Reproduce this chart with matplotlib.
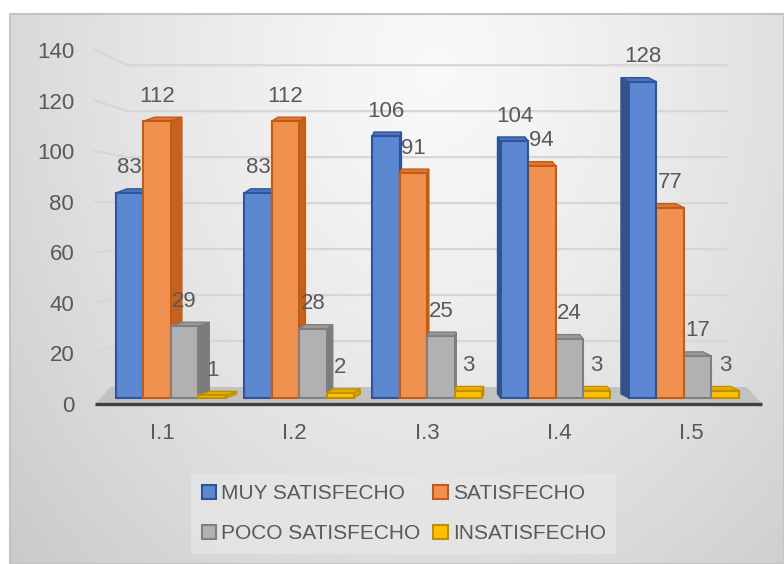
import numpy as np
import matplotlib
matplotlib.use("Agg")
import matplotlib.pyplot as plt
from matplotlib.patches import Polygon, Patch, Rectangle

# datos
categorias = ["I.1", "I.2", "I.3", "I.4", "I.5"]
series = ["MUY SATISFECHO", "SATISFECHO", "POCO SATISFECHO", "INSATISFECHO"]
muy_satisfecho = [83, 83, 106, 104, 128]
satisfecho = [112, 112, 91, 94, 77]
poco_satisfecho = [29, 28, 25, 24, 17]
insatisfecho = [1, 2, 3, 3, 3]
valores = [muy_satisfecho, satisfecho, poco_satisfecho, insatisfecho]

# estilo
C_FRENTE = ["#5B87D3", "#F0914F", "#B1B1B1", "#FFC000"]
C_BORDE = ["#2F5597", "#C55A11", "#7F7F7F", "#BF9000"]
C_LADO = ["#34518A", "#C4621F", "#7C7C7C", "#D9A400"]
C_TAPA = ["#4A74BF", "#D9793A", "#9A9A9A", "#E8B000"]
TXT = "#595959"
plt.rcParams["font.family"] = ["Liberation Sans", "DejaVu Sans"]
FS = 16

# geometria del falso 3D
ANCHO = 0.207
BASE = 2.4          # base de las barras (profundidad media)
ESC = 0.977         # escala de las barras respecto al eje frontal
FONDO_A, FONDO_B = 6.72, 0.909   # pared del fondo
X_IZQ, X_DER = -0.506, 4.53
X_FONDO_IZQ, X_FONDO_DER = -0.257, 4.27
DY = 1.6

fig = plt.figure(figsize=(7.84, 5.64), dpi=100)
fig.patch.set_facecolor("white")

# fondo con degradado
bg = fig.add_axes([10 / 784, 0, 774 / 784, 550 / 564])
yy, xx = np.mgrid[0:1:300j, 0:1:400j]
d = np.sqrt(((xx - 0.55) / 0.5) ** 2 + ((yy - 0.1) / 0.9) ** 2)
g = np.clip(0.975 - 0.11 * d ** 1.3, 0, 1)
bg.imshow(np.dstack([g, g, g]), aspect="auto", extent=[0, 1, 1, 0])
bg.set_xlim(0, 1)
bg.set_ylim(1, 0)
bg.axis("off")
bg.add_patch(Rectangle((0, 0), 1, 1, transform=bg.transAxes, fill=False,
                       edgecolor="#c4c4c4", lw=1.5, clip_on=False))

ax = fig.add_axes([95 / 784, 160 / 564, 667 / 784, 354 / 564])
ax.set_facecolor("none")
ax.set_xlim(X_IZQ, X_DER)
ax.set_ylim(0, 140)

# lineas de division (pared del fondo)
for v in range(20, 141, 20):
    vb = FONDO_A + FONDO_B * v
    ax.plot([X_IZQ, X_FONDO_IZQ, X_FONDO_DER], [v, vb, vb], color="#d6d6d6",
            lw=1.6, zorder=1, clip_on=False)

# piso
ax.add_patch(Polygon([(X_IZQ, 0), (X_DER, 0), (4.415, FONDO_A), (-0.39, FONDO_A)],
                     closed=True, facecolor="#c2c2c2", edgecolor="none", zorder=1.5))
ax.plot([X_IZQ, X_DER], [0, 0], color="#404040", lw=2.4, zorder=2, clip_on=False,
        solid_capstyle="butt")

x = np.arange(len(categorias))
for i in range(len(categorias)):
    inicio = -0.347 - 0.032 * i
    dx = 0.083 - 0.0357 * i
    for k, vals in enumerate(valores):
        z = 3 + (k if dx > 0 else 3 - k) + i * 10
        x0 = x[i] + inicio + k * ANCHO
        x1 = x0 + ANCHO
        yb = BASE
        yt = BASE + ESC * vals[i]
        # cara lateral
        if abs(dx) > 0.005:
            xe = x1 if dx > 0 else x0
            ax.add_patch(Polygon([(xe, yb), (xe + dx, yb + DY), (xe + dx, yt + DY), (xe, yt)],
                                 closed=True, facecolor=C_LADO[k], edgecolor=C_BORDE[k],
                                 lw=1.0, zorder=z + 0.2))
        # cara superior
        ax.add_patch(Polygon([(x0, yt), (x1, yt), (x1 + dx, yt + DY), (x0 + dx, yt + DY)],
                             closed=True, facecolor=C_TAPA[k], edgecolor=C_BORDE[k],
                             lw=1.0, zorder=z + 0.2))
        # cara frontal
        ax.bar(x0, ESC * vals[i], width=ANCHO, bottom=yb, align="edge",
               color=C_FRENTE[k], edgecolor=C_BORDE[k], lw=1.5, zorder=z + 0.5)
        ax.annotate(str(vals[i]), xy=(x0 + ANCHO / 2, yt), xytext=(0, 18),
                    textcoords="offset points", ha="center", va="center",
                    fontsize=FS, color=TXT, zorder=60)

ax.set_xticks(x)
ax.set_xticklabels(categorias)
ax.set_yticks(range(0, 141, 20))
ax.tick_params(axis="both", length=0, labelsize=FS, labelcolor=TXT)
ax.tick_params(axis="x", pad=14)
ax.tick_params(axis="y", pad=15)
for s in ax.spines.values():
    s.set_visible(False)

# leyenda en filas: matplotlib llena por columnas
orden = [0, 2, 1, 3]
handles = [Patch(facecolor=C_FRENTE[k], edgecolor=C_BORDE[k], lw=1.5) for k in orden]
leg = fig.legend(handles, [series[k] for k in orden], loc="center",
                 bbox_to_anchor=(0.515, 0.089), ncol=2,
                 fontsize=15, frameon=True, fancybox=False, handlelength=0.7,
                 handleheight=0.7, handletextpad=0.25, columnspacing=0.6,
                 labelspacing=1.0, borderpad=0.5)
leg.get_frame().set_facecolor("#e6e6e6")
leg.get_frame().set_edgecolor("none")
for t in leg.get_texts():
    t.set_color(TXT)

fig.savefig("out.png", dpi=100, facecolor="white")
